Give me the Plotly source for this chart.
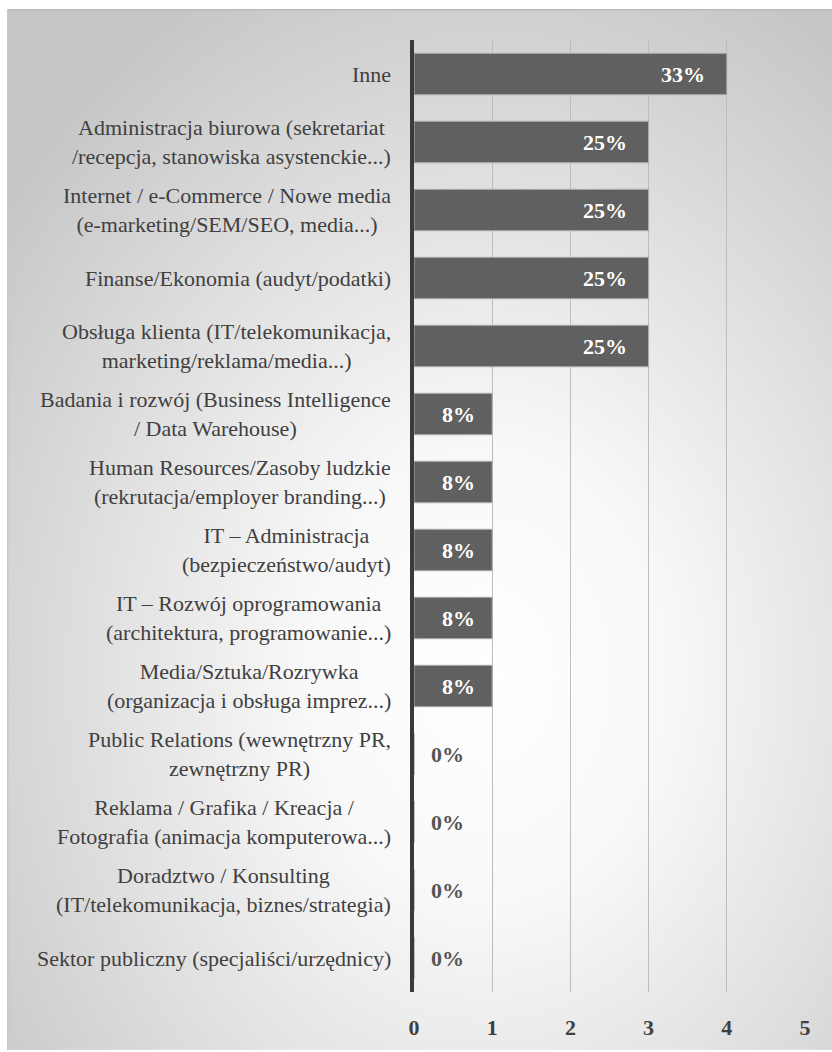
import base64
import plotly.graph_objects as go

categories = [
    "Inne",
    "Administracja biurowa (sekretariat<br>/recepcja, stanowiska asystenckie...)",
    "Internet / e-Commerce / Nowe media<br>(e-marketing/SEM/SEO, media...)",
    "Finanse/Ekonomia (audyt/podatki)",
    "Obsługa klienta (IT/telekomunikacja,<br>marketing/reklama/media...)",
    "Badania i rozwój (Business Intelligence<br>/ Data Warehouse)",
    "Human Resources/Zasoby ludzkie<br>(rekrutacja/employer branding...)",
    "IT – Administracja<br>(bezpieczeństwo/audyt)",
    "IT – Rozwój oprogramowania<br>(architektura, programowanie...)",
    "Media/Sztuka/Rozrywka<br>(organizacja i obsługa imprez...)",
    "Public Relations (wewnętrzny PR,<br>zewnętrzny PR)",
    "Reklama / Grafika / Kreacja /<br>Fotografia (animacja komputerowa...)",
    "Doradztwo / Konsulting<br>(IT/telekomunikacja, biznes/strategia)",
    "Sektor publiczny (specjaliści/urzędnicy)",
]
values = [4, 3, 3, 3, 3, 1, 1, 1, 1, 1, 0, 0, 0, 0]
pct_labels = ["33%", "25%", "25%", "25%", "25%", "8%", "8%", "8%", "8%", "8%",
              "0%", "0%", "0%", "0%"]
x_ticks = [0, 1, 2, 3, 4, 5]

W, H = 832, 1052
ML, MR, MT, MB = 414, 27, 40, 58
PW, PH = W - ML - MR, H - MT - MB

FONT = "Liberation Serif, DejaVu Serif, serif"

svg = (
    "<svg xmlns='http://www.w3.org/2000/svg' width='825' height='1043' "
    "viewBox='0 0 825 1043' preserveAspectRatio='none'>"
    "<defs><radialGradient id='g' cx='0.58' cy='0.64' r='0.74'>"
    "<stop offset='0' stop-color='#ffffff'/>"
    "<stop offset='0.3' stop-color='#f8f8f8'/>"
    "<stop offset='1' stop-color='#c6c6c6'/>"
    "</radialGradient></defs>"
    "<rect width='825' height='1043' fill='url(#g)'/>"
    "<rect x='0' y='0' width='825' height='1.5' fill='#b8b8b8'/>"
    "<rect x='0' y='0' width='1.5' height='1043' fill='#c8c8c8'/>"
    "</svg>"
)
src = "data:image/svg+xml;base64," + base64.b64encode(svg.encode()).decode()

fig = go.Figure()
fig.add_trace(go.Bar(
    x=values, y=categories, orientation="h",
    marker=dict(color="#606060", line=dict(color="#b0b0b0", width=1)),
    width=0.61, hoverinfo="skip",
))

annotations = []
for cat, v, lab in zip(categories, values, pct_labels):
    # category label, centred lines, right-aligned block
    annotations.append(dict(
        x=0, y=cat, xref="x", yref="y", text=cat, showarrow=False,
        xanchor="right", align="center", xshift=-21,
        font=dict(family=FONT, size=22, color="#404040"),
    ))
    if v > 0:
        shift = -20 if v >= 2 else -15
        annotations.append(dict(
            x=v, y=cat, xref="x", yref="y", text=lab, showarrow=False,
            xanchor="right", xshift=shift,
            font=dict(family=FONT, size=22, color="#ffffff", weight="bold"),
        ))
    else:
        annotations.append(dict(
            x=v, y=cat, xref="x", yref="y", text=lab, showarrow=False,
            xanchor="left", xshift=15,
            font=dict(family=FONT, size=22, color="#555555", weight="bold"),
        ))

fig.update_layout(
    width=W, height=H,
    margin=dict(l=ML, r=MR, t=MT, b=MB, pad=0),
    paper_bgcolor="#ffffff",
    plot_bgcolor="rgba(0,0,0,0)",
    showlegend=False,
    annotations=annotations,
    images=[dict(
        source=src, xref="paper", yref="paper",
        x=(7 - ML) / PW, y=1 - (9 - MT) / PH,
        sizex=(W - 7) / PW, sizey=(H - 9) / PH,
        xanchor="left", yanchor="top", sizing="stretch", layer="below",
    )],
    xaxis=dict(
        range=[0, 5], tickvals=x_ticks, ticktext=[str(t) for t in x_ticks],
        showgrid=True, gridcolor="#bdbdbd", gridwidth=1,
        zeroline=False, showline=False,
        ticks="outside", ticklen=16, tickcolor="rgba(0,0,0,0)",
        tickfont=dict(family=FONT, size=22, color="#404040", weight="bold"),
        fixedrange=True,
    ),
    yaxis=dict(
        autorange="reversed", categoryorder="array", categoryarray=categories,
        showgrid=False, zeroline=False, showticklabels=False,
        showline=True, linecolor="#3a3a3a", linewidth=4,
        fixedrange=True,
    ),
)

fig.write_html("out.html", config={"displayModeBar": False},
               post_script="document.body.style.margin='0px';")
